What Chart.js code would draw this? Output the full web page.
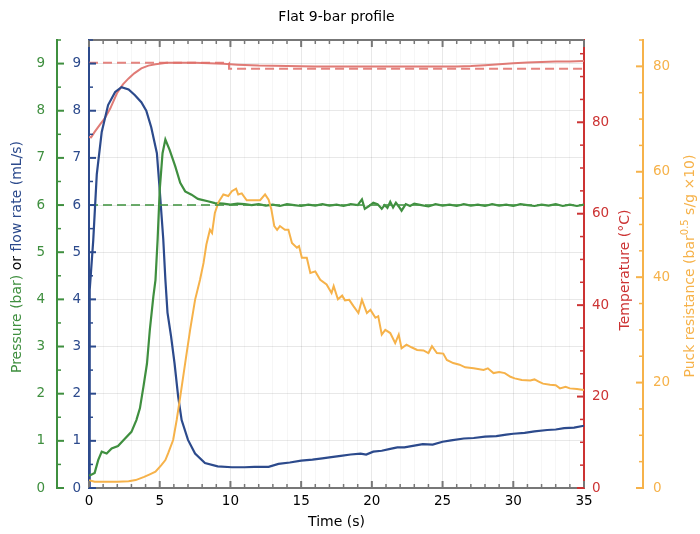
<!DOCTYPE html>
<html>
<head>
<meta charset="utf-8">
<script src="https://cdn.jsdelivr.net/npm/chart.js@4.4.0/dist/chart.umd.min.js"></script>
<style>
  body { margin: 0; background: #fff; }
</style>
</head>
<body>
<canvas id="chart" width="700" height="534"></canvas>
<script>
// values
const flowT = [0, 0.05, 0.3, 0.55, 0.9, 1.35, 1.85, 2.3, 2.8, 3.25, 3.7, 4.05, 4.4, 4.8, 5.0, 5.25, 5.4, 5.55, 5.8, 6.05, 6.3, 6.55, 7.0, 7.5, 8.2, 9.1, 10.1, 11.0, 11.7, 12.7, 13.4, 14.2, 15.0, 15.8, 16.5, 17.0, 17.8, 18.5, 19.2, 19.6, 20.1, 20.7, 21.3, 21.8, 22.3, 23.0, 23.6, 24.3, 25.0, 25.6, 26.5, 27.2, 28.0, 28.8, 29.5, 30.0, 30.8, 31.5, 32.4, 33.0, 33.6, 34.3, 35];
const flowV = [0, 4.2, 5.25, 6.65, 7.55, 8.12, 8.4, 8.5, 8.45, 8.33, 8.18, 8.0, 7.65, 7.1, 6.32, 5.28, 4.42, 3.72, 3.22, 2.64, 1.95, 1.44, 1.02, 0.73, 0.53, 0.46, 0.44, 0.44, 0.45, 0.45, 0.51, 0.54, 0.58, 0.6, 0.63, 0.65, 0.68, 0.71, 0.73, 0.71, 0.77, 0.79, 0.83, 0.86, 0.86, 0.9, 0.93, 0.92, 0.98, 1.01, 1.05, 1.06, 1.09, 1.1, 1.13, 1.15, 1.17, 1.2, 1.23, 1.24, 1.27, 1.28, 1.32];

const presT = [0, 0.1, 0.4, 0.65, 0.9, 1.25, 1.6, 2.05, 2.55, 3.0, 3.35, 3.6, 3.85, 4.1, 4.3, 4.55, 4.7, 4.85, 5.0, 5.2, 5.4, 5.7, 6.1, 6.45, 6.8, 7.25, 7.7, 8.4, 8.9,
  9.5, 10.0, 10.5, 11.0, 11.5, 12.0, 12.5, 13.0, 13.5, 14.0, 14.5, 15.0, 15.5, 16.0, 16.5, 17.0, 17.5, 18.0, 18.5, 19.0, 19.3, 19.5, 19.8, 20.1, 20.4, 20.7, 20.9, 21.1, 21.3, 21.5, 21.7, 21.9, 22.1, 22.4, 22.7, 23.0, 23.5, 24.0, 24.5, 25.0, 25.5, 26.0, 26.5, 27.0, 27.5, 28.0, 28.5, 29.0, 29.5, 30.0, 30.5, 31.0, 31.5, 32.0, 32.5, 33.0, 33.5, 34.0, 34.5, 35.0];
const presV = [0.27, 0.27, 0.32, 0.59, 0.77, 0.73, 0.84, 0.89, 1.05, 1.19, 1.44, 1.69, 2.15, 2.64, 3.35, 4.06, 4.41, 5.26, 6.32, 7.1, 7.39, 7.17, 6.82, 6.47, 6.29, 6.22, 6.13, 6.08, 6.04,
  6.03, 6.01, 6.03, 6.02, 6.0, 6.02, 5.99, 6.01, 5.98, 6.02, 6.0, 5.98, 6.01, 5.99, 6.02, 5.99, 6.01, 5.98, 6.02, 6.0, 6.12, 5.92, 5.98, 6.05, 6.02, 5.92, 6.0, 5.94, 6.07, 5.95, 6.05, 5.97, 5.88, 6.02, 5.98, 6.03, 6.0, 5.97, 6.02, 5.99, 6.01, 5.98, 6.02, 5.99, 6.01, 5.98, 6.02, 5.99, 6.01, 5.98, 6.02, 6.0, 5.98, 6.01, 5.99, 6.02, 5.98, 6.01, 5.98, 6.01];

const presTargetT = [0, 35];
const presTargetV = [6, 6];

const tempT = [0, 0.15, 0.4, 0.8, 1.1, 1.5, 2.0, 2.4, 2.8, 3.2, 3.7, 4.2, 4.7, 5.5, 6.5, 7.5, 8.5, 9.5, 10.5, 12, 14, 16, 18, 20, 22, 24, 26, 27, 28, 29, 30, 31, 32, 33, 34, 35];
const tempV = [76.8, 76.7, 77.9, 79.6, 80.8, 83.0, 86.5, 88.3, 89.6, 90.7, 91.8, 92.4, 92.7, 93.0, 93.0, 93.0, 92.9, 92.8, 92.6, 92.4, 92.3, 92.2, 92.2, 92.2, 92.2, 92.2, 92.2, 92.3, 92.5, 92.7, 92.9, 93.1, 93.2, 93.3, 93.3, 93.4];

const tempTargetT = [0, 9.9, 9.9, 35];
const tempTargetV = [93, 93, 91.7, 91.7];

const resT = [0, 0.4, 1.0, 2.0, 2.8, 3.3, 3.9, 4.3, 4.7, 5.1, 5.4, 5.6, 5.95, 6.2, 6.45, 6.8, 7.15, 7.5, 7.85, 8.1, 8.3, 8.55, 8.7, 8.9, 9.15, 9.5, 9.85, 10.1, 10.4, 10.55, 10.8, 11.15, 11.6, 12.1, 12.45, 12.7, 12.9, 13.1, 13.3, 13.5, 13.85, 14.1, 14.35, 14.7, 14.85, 15.05, 15.4, 15.65, 16.0, 16.35, 16.8, 17.15, 17.3, 17.6, 17.9, 18.1, 18.4, 18.7, 19.05, 19.3, 19.65, 19.9, 20.25, 20.45, 20.7, 20.95, 21.3, 21.65, 21.9, 22.1, 22.45, 22.8, 23.2, 23.65, 24.0, 24.25, 24.6, 25.05, 25.3, 25.75, 26.2, 26.6, 27.2, 27.9, 28.2, 28.6, 29.0, 29.4, 29.8, 30.1, 30.6, 31.2, 31.5, 31.8, 32.1, 32.6, 33.0, 33.3, 33.7, 34.0, 34.5, 35.0];
const resV = [1.5, 1.2, 1.2, 1.2, 1.3, 1.5, 2.1, 2.6, 3.1, 4.3, 5.3, 6.6, 9.1, 12.9, 17.3, 23.7, 30.0, 35.7, 39.5, 42.7, 46.2, 49.0, 48.4, 52.2, 54.2, 55.7, 55.4, 56.3, 56.8, 55.7, 55.9, 54.6, 54.6, 54.6, 55.7, 54.7, 52.8, 49.7, 49.0, 49.7, 49.0, 49.0, 46.5, 45.6, 45.9, 43.7, 43.7, 40.8, 41.1, 39.5, 38.6, 37.0, 38.3, 35.8, 36.5, 35.6, 35.7, 34.5, 33.2, 35.7, 33.2, 33.8, 32.3, 32.6, 29.1, 30.0, 29.4, 27.5, 29.1, 26.5, 27.2, 26.7, 26.2, 26.1, 25.6, 26.9, 25.6, 25.5, 24.3, 23.7, 23.4, 22.9, 22.7, 22.4, 22.7, 21.8, 22.0, 21.8, 21.1, 20.8, 20.5, 20.4, 20.6, 20.2, 19.8, 19.6, 19.5, 18.9, 19.2, 18.9, 18.8, 18.6];

const GREEN = '#3f8f3f';
const BLUE = '#2c4a8c';
const RED = '#cc3333';
const RED_LINE = '#e07b76';
const ORANGE = '#f6b24a';
const GRAY = '#777777';

function pts(ts, vs) {
    return ts.map((t, i) => ({ x: t, y: vs[i] }));
}

Chart.defaults.font.family = 'DejaVu Sans';
Chart.defaults.font.size = 13.5;

function yTicks(ctx, scale, x0, dir, step, major, color) {
    ctx.strokeStyle = color;
    for (let v = scale.min; v <= scale.max + 1e-9; v += step) {
        const big = Math.abs(v / major - Math.round(v / major)) < 1e-6;
        const y = scale.getPixelForValue(v);
        ctx.lineWidth = big ? 2 : 1.5;
        ctx.beginPath();
        ctx.moveTo(x0, y);
        ctx.lineTo(x0 + dir * (big ? 7 : 4), y);
        ctx.stroke();
    }
}

function xTicks(ctx, scale, y0, dir) {
    ctx.strokeStyle = GRAY;
    for (let v = 0; v <= 35; v++) {
        const big = v % 5 === 0;
        const x = scale.getPixelForValue(v);
        ctx.lineWidth = big ? 2 : 1.5;
        ctx.beginPath();
        ctx.moveTo(x, y0);
        ctx.lineTo(x, y0 + dir * (big ? 7 : 4));
        ctx.stroke();
    }
}

const decor = {
    id: 'decor',
    afterDraw(chart) {
        const ctx = chart.ctx;
        const a = chart.chartArea;
        const s = chart.scales;
        ctx.save();

        // top spine
        ctx.strokeStyle = GRAY;
        ctx.lineWidth = 2;
        ctx.beginPath();
        ctx.moveTo(a.left, a.top);
        ctx.lineTo(a.right, a.top);
        ctx.stroke();

        xTicks(ctx, s.x, a.bottom, -1);
        xTicks(ctx, s.x, a.top, 1);
        yTicks(ctx, s.yF, s.yF.right, 1, 0.5, 1, BLUE);
        yTicks(ctx, s.yP, s.yP.right, 1, 0.5, 1, GREEN);
        yTicks(ctx, s.yT, s.yT.left, -1, 5, 20, RED);
        yTicks(ctx, s.yR, s.yR.left, -1, 5, 20, ORANGE);

        // titles
        ctx.font = '14px "DejaVu Sans"';
        ctx.textAlign = 'center';
        ctx.textBaseline = 'middle';
        ctx.fillStyle = '#000';
        ctx.fillText('Flat 9-bar profile', (a.left + a.right) / 2, 17);
        ctx.fillText('Time (s)', (a.left + a.right) / 2, 522);

        // left title, three colours
        ctx.save();
        ctx.translate(17, 257);
        ctx.rotate(-Math.PI / 2);
        ctx.textAlign = 'left';
        const parts = [['Pressure (bar)', GREEN], [' or ', '#000'], ['flow rate (mL/s)', BLUE]];
        let total = 0;
        parts.forEach(p => total += ctx.measureText(p[0]).width);
        let px = -total / 2;
        parts.forEach(p => {
            ctx.fillStyle = p[1];
            ctx.fillText(p[0], px, 0);
            px += ctx.measureText(p[0]).width;
        });
        ctx.restore();

        // temperature title
        ctx.save();
        ctx.translate(625, 270);
        ctx.rotate(-Math.PI / 2);
        ctx.fillStyle = RED;
        ctx.fillText('Temperature (°C)', 0, 0);
        ctx.restore();

        // puck resistance title with superscript
        ctx.save();
        ctx.translate(690, 266);
        ctx.rotate(-Math.PI / 2);
        ctx.textAlign = 'left';
        ctx.fillStyle = ORANGE;
        const big = '14px "DejaVu Sans"', small = '10px "DejaVu Sans"';
        const rparts = [['Puck resistance (bar', big, 0], ['0.5', small, -5], [' s/g \u00d710)', big, 0]];
        let rt = 0;
        rparts.forEach(p => { ctx.font = p[1]; rt += ctx.measureText(p[0]).width; });
        let rx = -rt / 2;
        rparts.forEach(p => {
            ctx.font = p[1];
            ctx.fillText(p[0], rx, p[2]);
            rx += ctx.measureText(p[0]).width;
        });
        ctx.restore();

        ctx.restore();
    }
};

function gridColor(c) {
    const v = c.tick.value;
    if (v === 0 || v === 35) return 'rgba(0,0,0,0)';
    return v % 5 === 0 ? 'rgba(0,0,0,0.09)' : 'rgba(0,0,0,0.035)';
}

new Chart(document.getElementById('chart'), {
    type: 'line',
    data: {
        datasets: [
            { data: pts(presTargetT, presTargetV), yAxisID: 'yP', borderColor: 'rgba(70,150,70,0.8)', borderDash: [9, 5], borderWidth: 2 },
            { data: pts(tempTargetT, tempTargetV), yAxisID: 'yT', borderColor: 'rgba(224,110,105,0.85)', borderDash: [9, 5], borderWidth: 2 },
            { data: pts(resT, resV), yAxisID: 'yR', borderColor: ORANGE, borderWidth: 2 },
            { data: pts(presT, presV), yAxisID: 'yP', borderColor: GREEN, borderWidth: 2.2 },
            { data: pts(flowT, flowV), yAxisID: 'yF', borderColor: BLUE, borderWidth: 2.2 },
            { data: pts(tempT, tempV), yAxisID: 'yT', borderColor: RED_LINE, borderWidth: 2 }
        ]
    },
    options: {
        responsive: false,
        animation: false,
        layout: { padding: { top: 40, left: 0, right: 0, bottom: 0 } },
        elements: { point: { radius: 0 }, line: { tension: 0 } },
        plugins: { legend: { display: false }, tooltip: { enabled: false } },
        scales: {
            x: {
                type: 'linear', position: 'bottom', min: 0, max: 35,
                afterFit: s => { s.height = 46; },
                grid: { color: gridColor, drawTicks: false },
                border: { color: GRAY, width: 2 },
                ticks: {
                    stepSize: 1, autoSkip: false, maxRotation: 0, padding: 5, color: '#000',
                    callback: v => v % 5 === 0 ? v : ''
                }
            },
            yP: {
                position: 'left', weight: 2, min: 0, max: 9.5,
                afterFit: s => { s.width = 57; },
                grid: { display: false, drawTicks: false },
                border: { color: GREEN, width: 2 },
                ticks: { stepSize: 1, includeBounds: false, padding: 12, color: GREEN }
            },
            yF: {
                position: 'left', weight: 1, min: 0, max: 9.5,
                afterFit: s => { s.width = 32; },
                grid: {
                    drawTicks: false,
                    color: c => c.tick.value === 0 ? 'rgba(0,0,0,0)' : 'rgba(0,0,0,0.09)'
                },
                border: { color: BLUE, width: 2 },
                ticks: { stepSize: 1, includeBounds: false, padding: 8, color: BLUE }
            },
            yT: {
                position: 'right', weight: 1, min: 0, max: 98,
                afterFit: s => { s.width = 59; },
                grid: { display: false, drawTicks: false },
                border: { color: RED, width: 2 },
                ticks: { stepSize: 20, includeBounds: false, padding: 8, color: RED }
            },
            yR: {
                position: 'right', weight: 2, min: 0, max: 85,
                afterFit: s => { s.width = 57; },
                grid: { display: false, drawTicks: false },
                border: { color: ORANGE, width: 2 },
                ticks: { stepSize: 20, includeBounds: false, padding: 10, color: ORANGE }
            }
        }
    },
    plugins: [decor]
});
</script>
</body>
</html>
